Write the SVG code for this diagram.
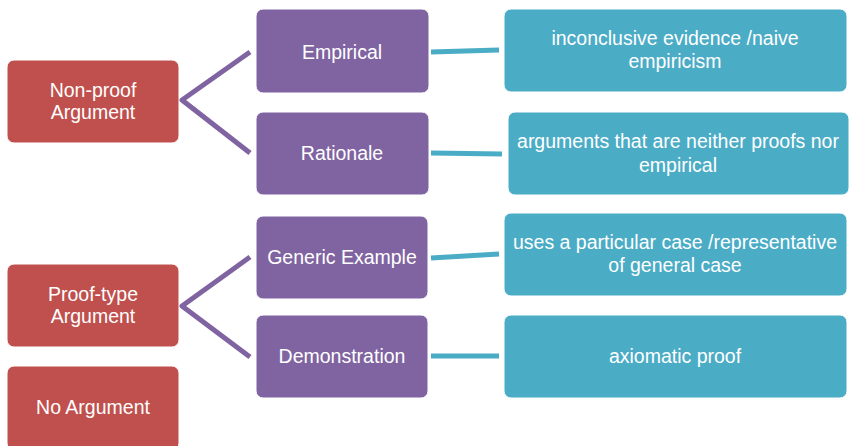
<svg xmlns="http://www.w3.org/2000/svg" width="850" height="446" viewBox="0 0 850 446">
<style>
  .red { fill: #C0504D; stroke: #ffffff; stroke-width: 1; }
  .purple { fill: #8064A2; stroke: #ffffff; stroke-width: 1; }
  .teal { fill: #4BACC6; stroke: #ffffff; stroke-width: 1; }
  text { font-family: "Liberation Sans", Arial, sans-serif; font-size: 19.5px; fill: #ffffff; text-anchor: middle; }
  .pl { stroke: #8064A2; stroke-width: 5; fill: none; stroke-linejoin: miter; }
  .tl { stroke: #4BACC6; stroke-width: 5; fill: none; }
</style>
<rect width="850" height="446" fill="#ffffff"/>
<g id="connectors">
  <polyline class="pl" points="250,52 182,100 250,153"/>
  <polyline class="pl" points="250,257 182,306 250,357"/>
  <line class="tl" x1="431" y1="52" x2="499" y2="50"/>
  <line class="tl" x1="431" y1="153" x2="502" y2="154"/>
  <line class="tl" x1="431" y1="258" x2="499" y2="254"/>
  <line class="tl" x1="431" y1="356" x2="499" y2="356"/>
</g>
<g id="non-proof">
  <rect class="red" x="7" y="60" width="172" height="83" rx="7"/>
  <text x="93" y="97">Non-proof</text>
  <text x="93" y="119">Argument</text>
</g>
<g id="proof-type">
  <rect class="red" x="7" y="264" width="172" height="83" rx="7"/>
  <text x="93" y="301">Proof-type</text>
  <text x="93" y="323">Argument</text>
</g>
<g id="no-argument">
  <rect class="red" x="7" y="366" width="172" height="84" rx="7"/>
  <text x="93" y="414">No Argument</text>
</g>
<g id="empirical">
  <rect class="purple" x="256" y="9" width="173" height="84" rx="7"/>
  <text x="342" y="59">Empirical</text>
</g>
<g id="rationale">
  <rect class="purple" x="256" y="112" width="173" height="83" rx="7"/>
  <text x="342" y="160">Rationale</text>
</g>
<g id="generic-example">
  <rect class="purple" x="256" y="216" width="172" height="83" rx="7"/>
  <text x="342" y="264">Generic Example</text>
</g>
<g id="demonstration">
  <rect class="purple" x="256" y="315" width="172" height="83" rx="7"/>
  <text x="342" y="363">Demonstration</text>
</g>
<g id="inconclusive">
  <rect class="teal" x="504" y="9" width="343" height="83" rx="7"/>
  <text x="675" y="45">inconclusive evidence /naive</text>
  <text x="675" y="68">empiricism</text>
</g>
<g id="neither">
  <rect class="teal" x="508" y="112" width="341" height="83" rx="7"/>
  <text x="678" y="148">arguments that are neither proofs nor</text>
  <text x="678" y="172">empirical</text>
</g>
<g id="particular">
  <rect class="teal" x="504" y="213" width="343" height="83" rx="7"/>
  <text x="675" y="249">uses a particular case /representative</text>
  <text x="675" y="272">of general case</text>
</g>
<g id="axiomatic">
  <rect class="teal" x="504" y="315" width="343" height="83" rx="7"/>
  <text x="675" y="363">axiomatic proof</text>
</g>
</svg>
